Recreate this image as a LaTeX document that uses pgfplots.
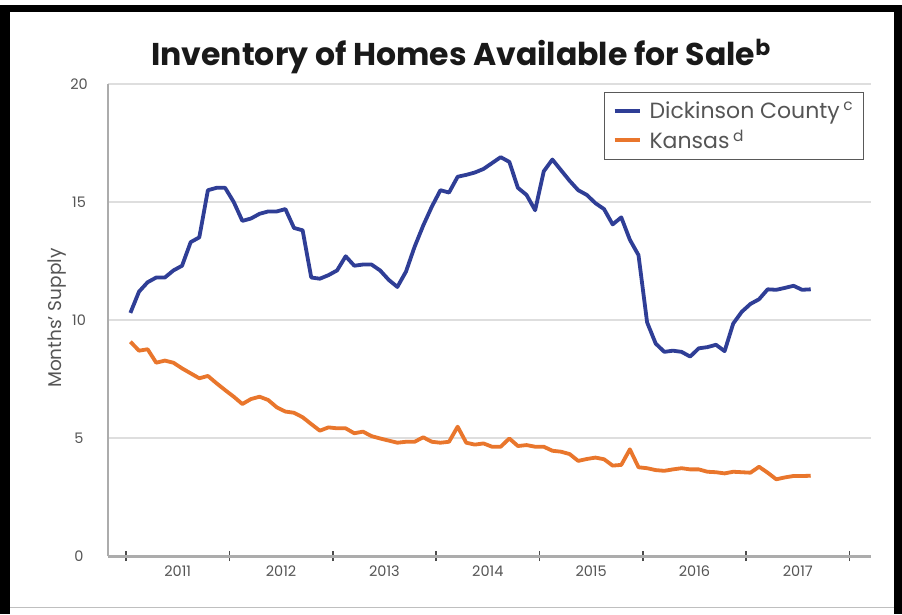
\documentclass[border=0pt]{standalone}
\usepackage{fontspec}
\setmainfont{Poppins}
\usepackage{pgfplots}
\pgfplotsset{compat=1.18}

\definecolor{dcblue}{RGB}{47,62,150}
\definecolor{ksorange}{RGB}{233,118,44}
\definecolor{gridgray}{RGB}{222,222,222}
\definecolor{axgray}{RGB}{172,172,172}
\definecolor{txtgray}{RGB}{85,85,85}

\begin{document}
\begin{tikzpicture}
\useasboundingbox (0pt,0pt) rectangle (902pt,614pt);
\fill[white] (0pt,0pt) rectangle (902pt,614pt);
% frame of the screenshot
\fill[black] (0pt,0pt) rectangle (10pt,609pt);
\fill[black] (0pt,602pt) rectangle (902pt,609pt);
\fill[black] (894pt,0pt) rectangle (902pt,609pt);
\draw[black!25, line width=1pt] (10pt,7pt) -- (894pt,7pt);

\begin{axis}[
  at={(108pt,58pt)}, anchor=south west,
  scale only axis, width=763pt, height=472pt,
  xmin=-2.6, xmax=86, ymin=0, ymax=20,
  axis x line*=bottom, axis y line*=left,
  x axis line style={axgray, line width=3pt, -},
  y axis line style={axgray, line width=1.2pt, -},
  /pgf/number format/assume math mode=true,
  % year boundaries
  xtick={-0.5,11.5,23.5,35.5,47.5,59.5,71.5,83.5},
  xticklabels={},
  major tick length=10pt, tick align=center,
  x tick style={draw=black!70, line width=1.5pt},
  % year names between the boundaries
  extra x ticks={5.5,17.5,29.5,41.5,53.5,65.5,77.5},
  extra x tick labels={2011,2012,2013,2014,2015,2016,2017},
  extra x tick style={major tick length=0pt, tick style={draw=none}},
  xticklabel style={anchor=center, yshift=-15pt, text=txtgray,
    font=\fontsize{14.5}{16}\selectfont},
  ytick={0,5,10,15,20},
  y tick style={draw=none},
  yticklabel style={anchor=center, xshift=-24pt, text=txtgray,
    font=\fontsize{14.5}{16}\selectfont},
  ymajorgrids, grid style={gridgray, line width=1.5pt},
  ylabel={Months' Supply},
  ylabel style={at={(axis description cs:-0.0668,0.504)}, anchor=center,
    text=txtgray, font=\fontsize{18.5}{22}\selectfont},
  title={Inventory of Homes Available for Sale\textsuperscript{b}},
  title style={at={(axis description cs:0.4627,1.0275)}, anchor=base,
    text=black!90, font=\bfseries\fontsize{31.5}{36}\selectfont},
  legend style={at={(axis description cs:0.9908,0.983)}, anchor=north east,
    draw=black!65, line width=1.3pt, text=txtgray,
    font=\fontsize{22}{26}\selectfont,
    inner xsep=8pt, inner ysep=7pt, row sep=6pt},
  legend cell align=left,
  legend image code/.code={\draw[#1] (0pt,0pt) -- (25pt,0pt); \path (31pt,0pt);},
]
\addplot[dcblue, line width=3.8pt, line join=round] coordinates {
(0,10.3) (1,11.2) (2,11.6) (3,11.8) (4,11.8) (5,12.1) (6,12.3) (7,13.3)
(8,13.5) (9,15.5) (10,15.6) (11,15.6) (12,15.0) (13,14.2) (14,14.3) (15,14.5)
(16,14.6) (17,14.6) (18,14.7) (19,13.9) (20,13.8) (21,11.8) (22,11.75) (23,11.9)
(24,12.1) (25,12.7) (26,12.3) (27,12.35) (28,12.35) (29,12.1) (30,11.7) (31,11.4)
(32,12.05) (33,13.1) (34,14.0) (35,14.8) (36,15.5) (37,15.4) (38,16.07) (39,16.15)
(40,16.25) (41,16.4) (42,16.65) (43,16.9) (44,16.7) (45,15.6) (46,15.3) (47,14.65)
(48,16.3) (49,16.8) (50,16.35) (51,15.9) (52,15.5) (53,15.3) (54,14.95) (55,14.7)
(56,14.05) (57,14.35) (58,13.4) (59,12.75) (60,9.9) (61,9.0) (62,8.65) (63,8.7)
(64,8.65) (65,8.45) (66,8.8) (67,8.85) (68,8.95) (69,8.68) (70,9.85) (71,10.35)
(72,10.68) (73,10.88) (74,11.3) (75,11.28) (76,11.36) (77,11.45) (78,11.28) (79,11.3)
};
\addlegendentry{Dickinson County\,\textsuperscript{c}}
\addplot[ksorange, line width=3.8pt, line join=round] coordinates {
(0,9.08) (1,8.70) (2,8.76) (3,8.19) (4,8.28) (5,8.19) (6,7.95) (7,7.74)
(8,7.53) (9,7.63) (10,7.32) (11,7.03) (12,6.75) (13,6.44) (14,6.65) (15,6.75)
(16,6.61) (17,6.30) (18,6.12) (19,6.07) (20,5.88) (21,5.59) (22,5.31) (23,5.45)
(24,5.41) (25,5.41) (26,5.20) (27,5.27) (28,5.08) (29,4.98) (30,4.89) (31,4.80)
(32,4.84) (33,4.84) (34,5.03) (35,4.84) (36,4.80) (37,4.84) (38,5.48) (39,4.80)
(40,4.72) (41,4.77) (42,4.63) (43,4.63) (44,4.98) (45,4.66) (46,4.70) (47,4.63)
(48,4.63) (49,4.46) (50,4.42) (51,4.32) (52,4.03) (53,4.11) (54,4.17) (55,4.10)
(56,3.83) (57,3.86) (58,4.52) (59,3.76) (60,3.72) (61,3.64) (62,3.61) (63,3.67)
(64,3.72) (65,3.67) (66,3.67) (67,3.57) (68,3.55) (69,3.50) (70,3.57) (71,3.55)
(72,3.53) (73,3.78) (74,3.53) (75,3.25) (76,3.33) (77,3.39) (78,3.39) (79,3.40)
};
\addlegendentry{Kansas\,\textsuperscript{d}}
\end{axis}
\end{tikzpicture}
\end{document}
